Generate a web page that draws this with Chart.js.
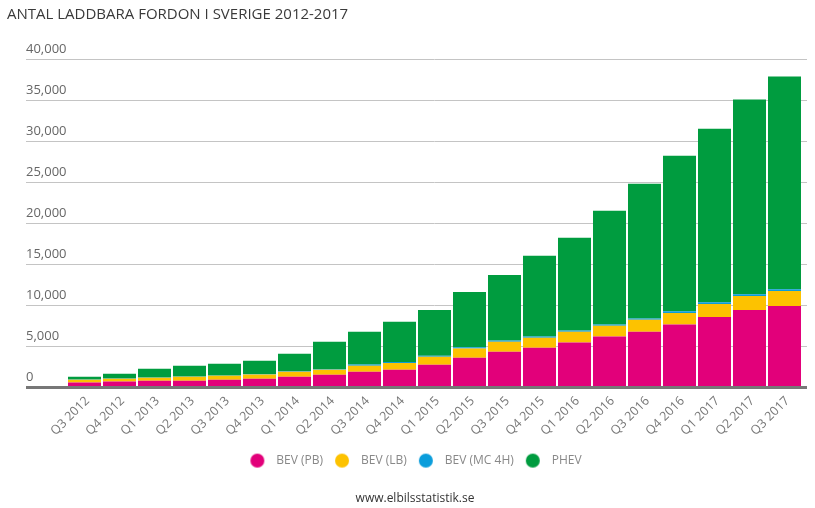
<!DOCTYPE html>
<html>
<head>
<meta charset="utf-8">
<script src="https://cdn.jsdelivr.net/npm/chart.js@4.4.1/dist/chart.umd.min.js"></script>
<style>
    html, body { margin: 0; padding: 0; background: #fff; }
    #wrap { width: 815px; height: 508px; }
</style>
</head>
<body>
<div id="wrap"><canvas id="laddbaraChart"></canvas></div>
<script>
const quarters = [
    "Q3 2012", "Q4 2012", "Q1 2013", "Q2 2013", "Q3 2013", "Q4 2013",
    "Q1 2014", "Q2 2014", "Q3 2014", "Q4 2014", "Q1 2015", "Q2 2015",
    "Q3 2015", "Q4 2015", "Q1 2016", "Q2 2016", "Q3 2016", "Q4 2016",
    "Q1 2017", "Q2 2017", "Q3 2017",
];
const bevPb = [600, 750, 840, 840, 960, 1080, 1320, 1570, 1930, 2170, 2780, 3630, 4360, 4840, 5490, 6210, 6780, 7670, 8600, 9450, 9940];
const bevLb = [360, 330, 360, 480, 480, 520, 610, 600, 730, 830, 970, 1130, 1210, 1220, 1290, 1300, 1460, 1420, 1580, 1700, 1820];
const bevMc = [20, 20, 30, 30, 40, 50, 60, 70, 140, 120, 120, 140, 150, 160, 170, 180, 180, 190, 200, 200, 200];
const phev = [340, 590, 1060, 1310, 1420, 1610, 2120, 3330, 3980, 4880, 5580, 6740, 7980, 9820, 11280, 13830, 16400, 18950, 21140, 23710, 25910];
const yTicks = [0, 5000, 10000, 15000, 20000, 25000, 30000, 35000, 40000];

const colors = ["#e2007a", "#fdc200", "#0a9ddb", "#009c3f"];

// round legend markers, drawn a bit left of the box centre
function dot(color) {
    const c = document.createElement("canvas");
    c.width = 20;
    c.height = 16;
    const g = c.getContext("2d");
    g.fillStyle = color;
    g.beginPath();
    g.arc(8, 8, 7, 0, Math.PI * 2);
    g.fill();
    return c;
}
const dots = colors.map(dot);

Chart.defaults.font.family = "'Open Sans', sans-serif";

const data = {
    labels: quarters,
    datasets: [
        { label: "BEV (PB)", data: bevPb, backgroundColor: colors[0] },
        { label: "BEV (LB)", data: bevLb, backgroundColor: colors[1] },
        { label: "BEV (MC 4H)", data: bevMc, backgroundColor: colors[2] },
        { label: "PHEV", data: phev, backgroundColor: colors[3] },
    ],
};

const gridColor = (ctx) => (ctx.tick && ctx.tick.value === 0 ? "#777777" : "#c4c4c4");
const gridWidth = (ctx) => (ctx.tick && ctx.tick.value === 0 ? 3 : 1);

const config = {
    type: "bar",
    data: data,
    options: {
        responsive: true,
        maintainAspectRatio: false,
        animation: false,
        datasets: {
            bar: { barPercentage: 0.943, categoryPercentage: 1 },
        },
        // right padding below zero so legend and footer sit where the original has them
        layout: { padding: { left: 7, right: -8, top: 0, bottom: 0 } },
        scales: {
            x: {
                stacked: true,
                grid: { display: false, drawTicks: false },
                border: { display: true, color: "#777777", width: 3, z: 1 },
                ticks: {
                    color: "#777777",
                    font: { size: 12.5 },
                    minRotation: 45,
                    maxRotation: 45,
                    autoSkip: false,
                    padding: 6,
                    labelOffset: 3,
                },
            },
            y: {
                stacked: true,
                min: 0,
                max: 40000,
                afterBuildTicks: (s) => { s.ticks = yTicks.map((v) => ({ value: v })); },
                afterFit: (s) => { s.width = 60; },
                border: { display: false },
                grid: { color: gridColor, lineWidth: gridWidth, tickLength: 41 },
                ticks: {
                    mirror: true,
                    padding: -41,
                    labelOffset: -10,
                    color: "#666666",
                    font: { size: 13 },
                    callback: (v) => v.toLocaleString("en-US"),
                },
            },
            y2: {
                position: "right",
                min: 0,
                max: 40000,
                afterBuildTicks: (s) => { s.ticks = yTicks.map((v) => ({ value: v })); },
                afterFit: (s) => { s.width = 21; },
                border: { display: false },
                grid: { drawOnChartArea: false, color: gridColor, lineWidth: gridWidth, tickLength: 5 },
                ticks: { display: false },
            },
        },
        plugins: {
            title: {
                display: true,
                text: "ANTAL LADDBARA FORDON I SVERIGE 2012-2017",
                align: "start",
                color: "#3a3a3a",
                font: { size: 15, weight: "normal" },
                padding: { top: 6, bottom: 35 },
            },
            legend: {
                position: "bottom",
                labels: {
                    usePointStyle: true,
                    pointStyleWidth: 22,
                    boxHeight: 14,
                    padding: 10,
                    color: "#888888",
                    font: { size: 12 },
                    generateLabels: (chart) =>
                        Chart.defaults.plugins.legend.labels.generateLabels(chart).map((item, i) => ({ ...item, pointStyle: dots[i] })),
                },
            },
            subtitle: {
                display: true,
                position: "bottom",
                text: "www.elbilsstatistik.se",
                color: "#333333",
                font: { size: 12 },
                padding: { top: 15, bottom: 2 },
            },
            tooltip: { enabled: false },
        },
    },
};

new Chart(document.getElementById("laddbaraChart"), config);
</script>
</body>
</html>
